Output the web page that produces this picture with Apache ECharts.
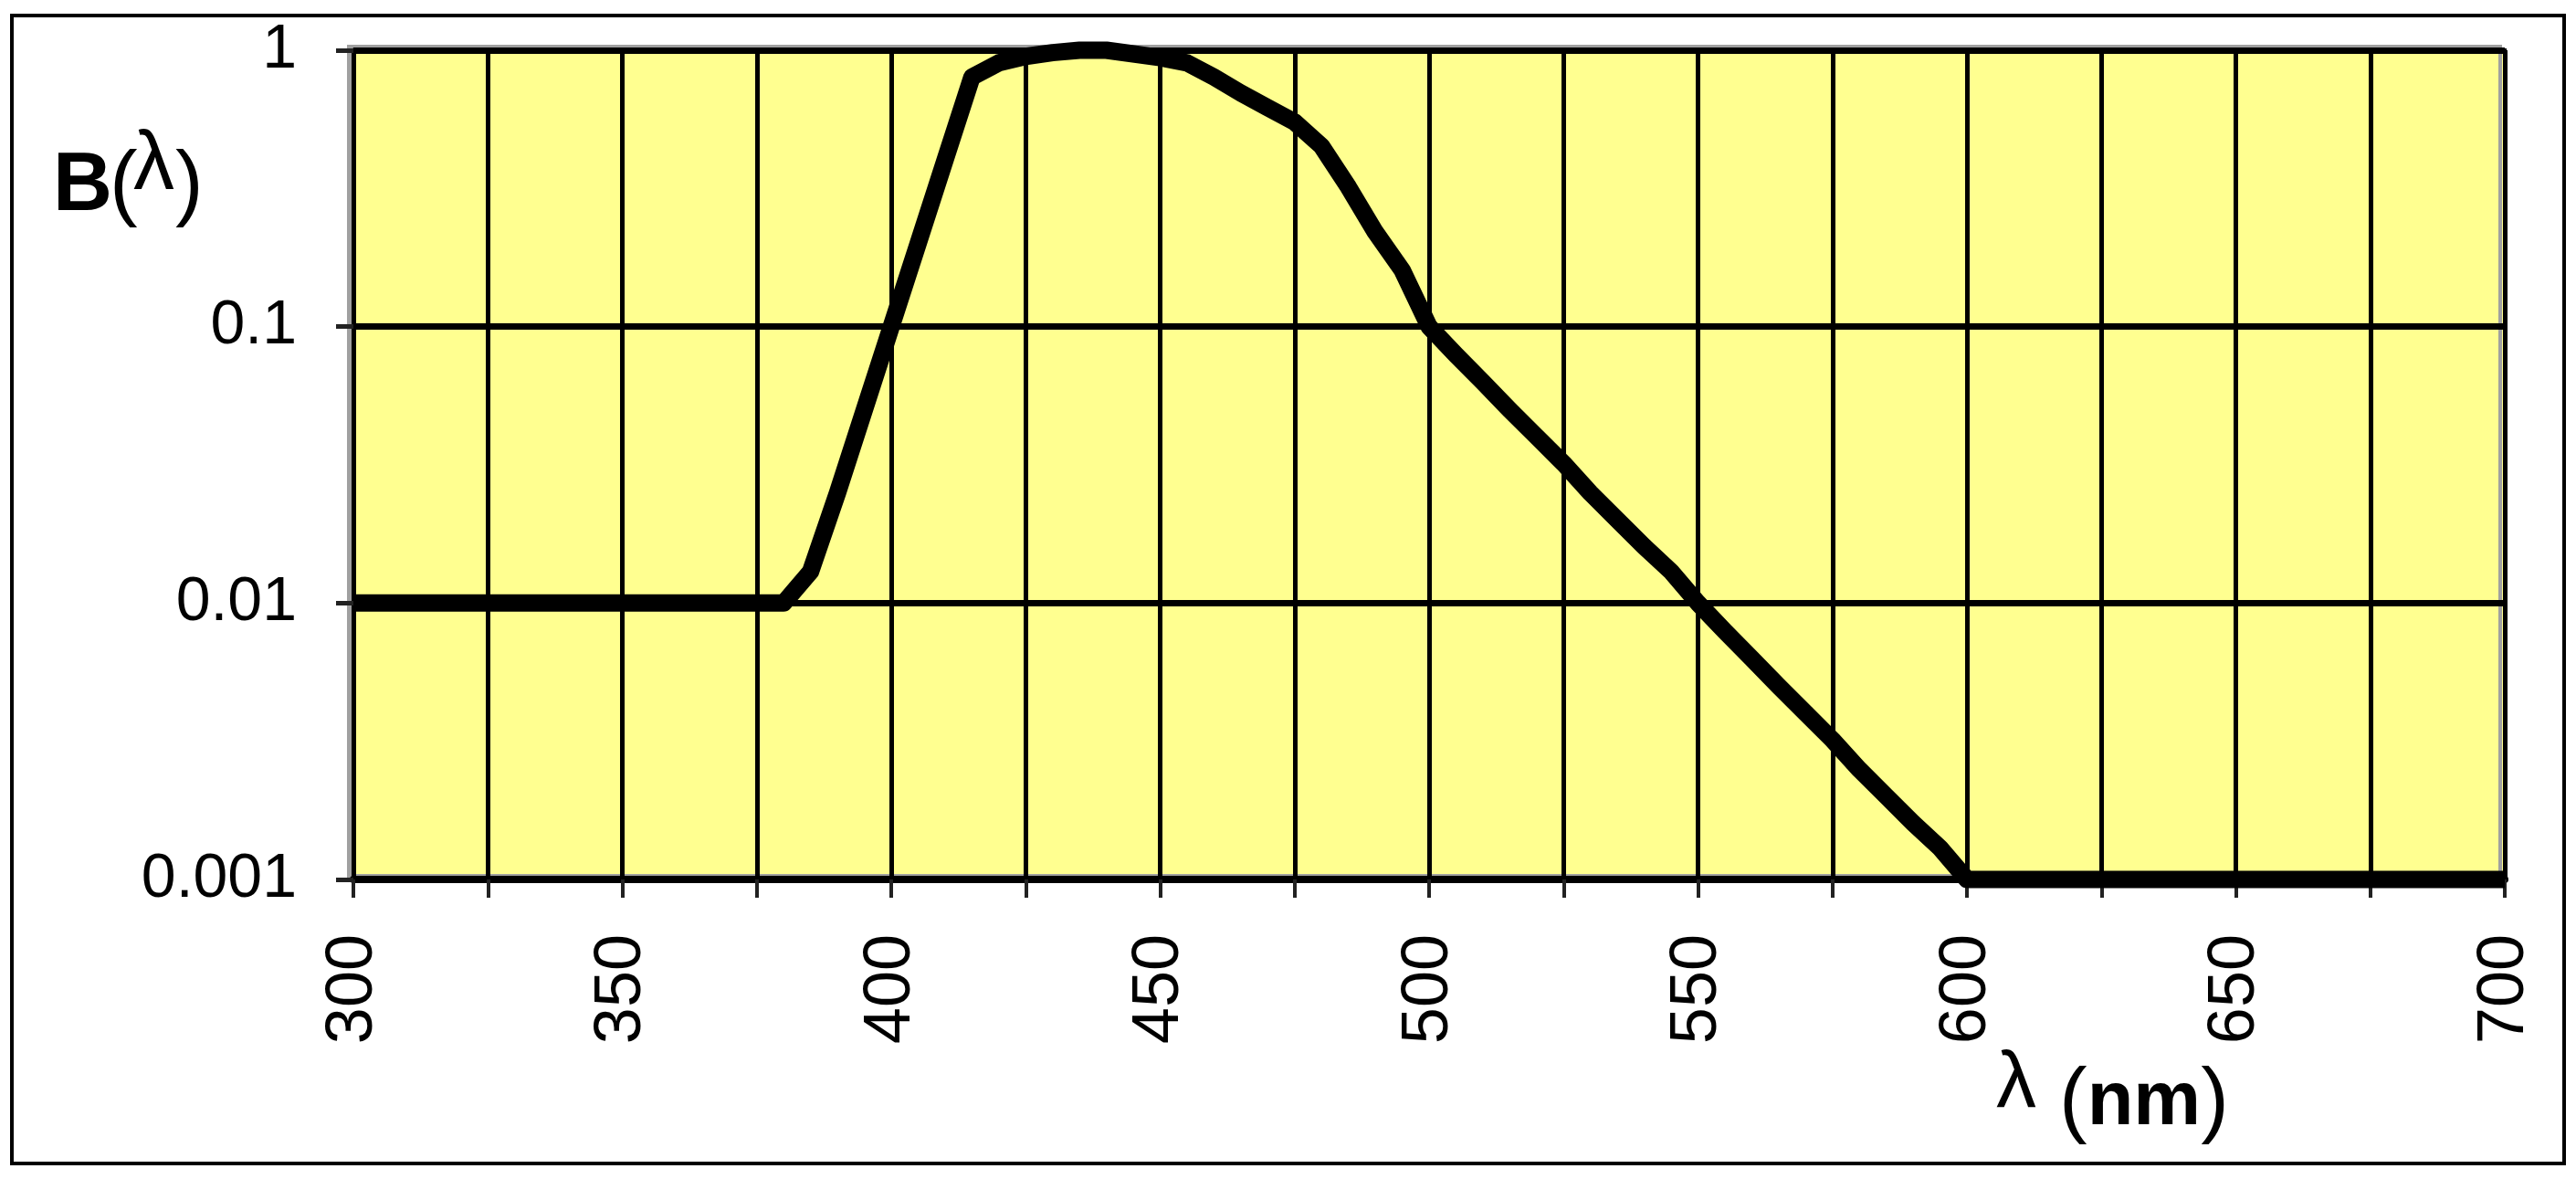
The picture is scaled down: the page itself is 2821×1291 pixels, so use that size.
<!DOCTYPE html>
<html>
<head>
<meta charset="utf-8">
<title>B(λ)</title>
<script src="https://cdn.jsdelivr.net/npm/echarts@6.0.0/dist/echarts.min.js"></script>
<style>
  html, body { margin: 0; padding: 0; background: #fff; }
  #chart { width: 2821px; height: 1291px; }
</style>
</head>
<body>
<div id="chart"></div>
<script>
// wavelength (nm) and B(lambda), every 5 nm
const wavelengths = [
  300, 305, 310, 315, 320, 325, 330, 335, 340, 345, 350, 355, 360, 365, 370, 375, 380,
  385, 390, 395, 400, 405, 410, 415, 420, 425, 430, 435, 440, 445, 450, 455, 460, 465,
  470, 475, 480, 485, 490, 495, 500, 505, 510, 515, 520, 525, 530, 535, 540, 545, 550,
  555, 560, 565, 570, 575, 580, 585, 590, 595, 600, 605, 610, 615, 620, 625, 630, 635,
  640, 645, 650, 655, 660, 665, 670, 675, 680, 685, 690, 695, 700,
]
const bValues = [
  0.01, 0.01, 0.01, 0.01, 0.01, 0.01, 0.01, 0.01, 0.01, 0.01, 0.01, 0.01, 0.01, 0.01, 0.01, 0.01, 0.01,
  0.013, 0.025, 0.05, 0.1, 0.2, 0.4, 0.8, 0.9, 0.95, 0.98, 1.0, 1.0, 0.97, 0.94, 0.9, 0.8, 0.7,
  0.62, 0.55, 0.45, 0.32, 0.22, 0.16, 0.1, 0.079, 0.063, 0.05, 0.04, 0.032, 0.025, 0.02, 0.016, 0.013, 0.01,
  0.0079, 0.0063, 0.005, 0.004, 0.0032, 0.0025, 0.002, 0.0016, 0.0013, 0.001, 0.001, 0.001, 0.001, 0.001, 0.001, 0.001, 0.001,
  0.001, 0.001, 0.001, 0.001, 0.001, 0.001, 0.001, 0.001, 0.001, 0.001, 0.001, 0.001, 0.001,
]
const xTickValues = [300, 350, 400, 450, 500, 550, 600, 650, 700]
const xTickLabels = ['300', '350', '400', '450', '500', '550', '600', '650', '700']
const yTickValues = [0.001, 0.01, 0.1, 1]
const yTickLabels = ['0.001', '0.01', '0.1', '1']

const font = '"Liberation Sans", Arial, sans-serif'

const chart = echarts.init(document.getElementById('chart'), null, { renderer: 'canvas' })

// text pieces placed by their baseline (middle align = baseline - 0.31em)
const textPiece = (text, x, baseline, size, weight, rich) => ({
  type: 'text',
  x,
  y: baseline - 0.31 * size,
  z: 100,
  style: {
    text,
    font: `${weight || 'normal'} ${size}px ${font}`,
    fill: '#000',
    textAlign: 'left',
    align: 'left',
    textVerticalAlign: 'middle',
    verticalAlign: 'middle',
    rich,
  },
})

const options = {
  backgroundColor: '#fff',
  animation: false,
  grid: {
    left: 387,
    right: 78,
    top: 55,
    bottom: 328,
    containLabel: false,
    outerBoundsMode: 'none',
    show: true,
    backgroundColor: '#ffff90',
    borderColor: '#000',
    borderWidth: 4,
    shadowColor: '#a0a0a0',
    shadowBlur: 0,
    shadowOffsetX: -5,
    shadowOffsetY: -4,
  },
  xAxis: {
    type: 'value',
    min: 300,
    max: 700,
    interval: 25,
    axisLine: { show: true, lineStyle: { color: '#000', width: 8 } },
    axisTick: { show: true, inside: false, length: 20, lineStyle: { color: '#222', width: 4 } },
    axisLabel: {
      rotate: 90,
      margin: 60,
      fontFamily: font,
      fontSize: 72,
      color: '#000',
      formatter: (v) => {
        const i = xTickValues.indexOf(v)
        return i >= 0 ? xTickLabels[i] : ''
      },
    },
    splitLine: { show: true, lineStyle: { color: '#000', width: 5 } },
  },
  yAxis: {
    type: 'log',
    logBase: 10,
    min: 0.001,
    max: 1,
    axisLine: { show: true, lineStyle: { color: '#000', width: 5 } },
    axisTick: { show: true, inside: false, length: 19, lineStyle: { color: '#222', width: 5 } },
    axisLabel: {
      margin: 62,
      fontFamily: font,
      fontSize: 68,
      color: '#000',
      formatter: (v) => {
        const i = yTickValues.findIndex((t) => Math.abs(Math.log10(t) - Math.log10(v)) < 1e-6)
        return i >= 0 ? yTickLabels[i] : ''
      },
    },
    splitLine: { show: true, lineStyle: { color: '#000', width: 7 } },
    minorTick: { show: false },
    minorSplitLine: { show: false },
  },
  series: [
    {
      name: 'B',
      type: 'line',
      data: wavelengths.map((w, i) => [w, bValues[i]]),
      symbol: 'none',
      smooth: false,
      clip: false,
      z: 10,
      lineStyle: { color: '#000', width: 19, join: 'round', cap: 'butt' },
    },
  ],
  graphic: [
    // outer frame
    {
      type: 'rect',
      shape: { x: 13, y: 17, width: 2795, height: 1257 },
      style: { fill: 'none', stroke: '#000', lineWidth: 4 },
      z: 100,
    },
    // y axis name: B(λ)
    textPiece('B', 58, 233, 90, 'bold'),
    textPiece('(', 120, 233, 92),
    textPiece('λ', 146, 210, 90),
    textPiece(')', 192, 233, 92),
    // x axis name: λ (nm)
    textPiece('λ', 2186, 1215, 88),
    textPiece('{p|(}{b|nm}{p|)}', 2255, 1237, 92, 'normal', {
      p: { fontSize: 92, fontFamily: font, fontWeight: 'normal', color: '#000' },
      b: { fontSize: 83, fontFamily: font, fontWeight: 'bold', color: '#000' },
    }),
  ],
}

chart.setOption(options, true)
</script>
</body>
</html>
